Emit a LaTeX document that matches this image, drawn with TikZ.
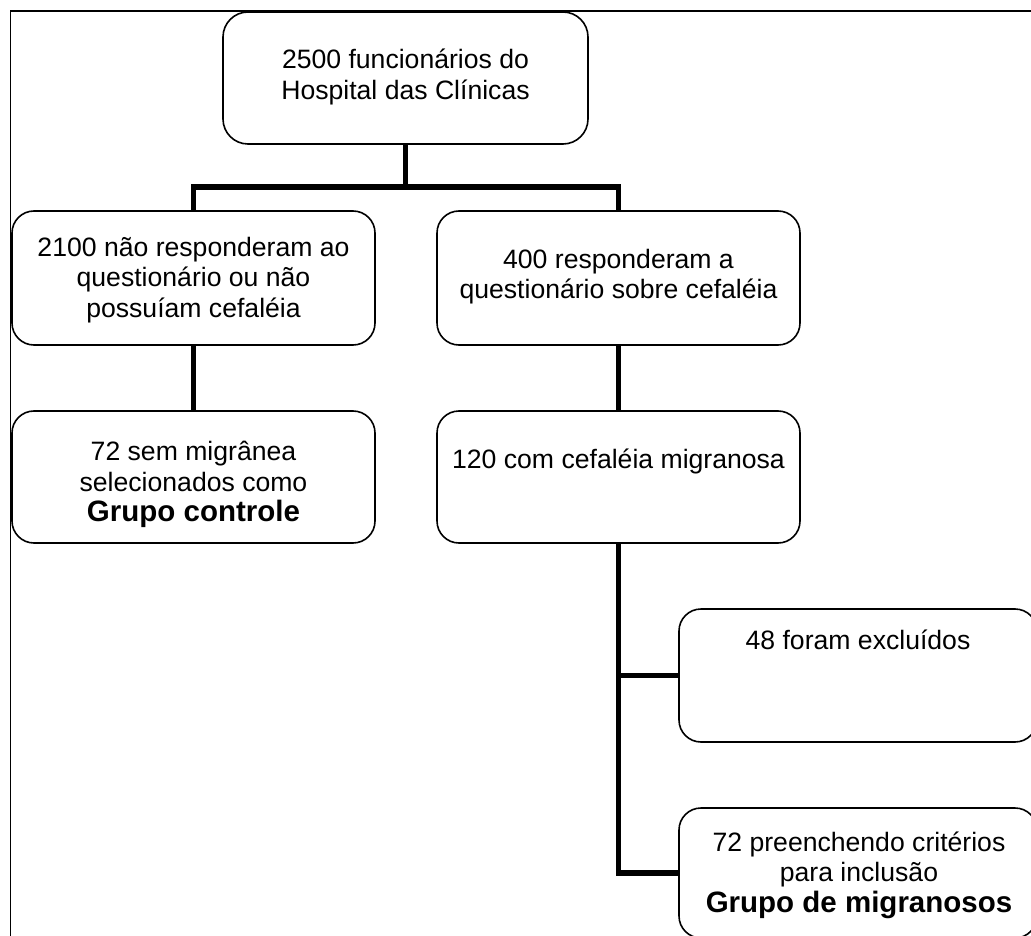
\documentclass[tikz,border=0pt]{standalone}
\usepackage{fontspec}
\setmainfont{Liberation Sans}
\newcommand{\bigbold}[1]{{\fontsize{29.5pt}{30.5pt}\selectfont\bfseries #1}}
\begin{document}
\begin{tikzpicture}[x=1pt,y=-1pt,
  box/.style={draw, line width=1.6pt, rounded corners=22pt, inner sep=0pt},
  txt/.style={inner sep=0pt, anchor=base, align=center, font=\fontsize{26.6pt}{30.5pt}\selectfont},
  conn/.style={line width=5.5pt, line join=miter},
  frame/.style={line width=1.8pt}]
\useasboundingbox (0,0) rectangle (1031,936);
\clip (0,0) rectangle (1031,936);
% outer frame
\draw[frame] (1045,11) -- (10.5,11) -- (10.5,950);
% boxes
\node[box, rounded corners=25pt, minimum width=365pt, minimum height=132pt] (b1) at (405.5,78) {};
\node[box, minimum width=363pt, minimum height=134pt] (b2L) at (193.5,278) {};
\node[box, minimum width=363pt, minimum height=134pt] (b2R) at (618.5,278) {};
\node[box, minimum width=363pt, minimum height=132pt] (b3L) at (193.5,477) {};
\node[box, minimum width=363pt, minimum height=132pt] (b3R) at (618.5,477) {};
\node[box, minimum width=358pt, minimum height=133pt] (b4) at (858,675.5) {};
\node[box, minimum width=358pt, minimum height=130pt] (b5) at (858,873) {};
% texts (anchor base = baseline of the last line)
\node[txt] (t1) at (405.5,99.5) {2500 funcionários do\\Hospital das Clínicas};
\node[txt] (t2L) at (193.5,317) {2100 não responderam ao\\questionário ou não\\possuíam cefaléia};
\node[txt] (t2R) at (618.5,298.5) {400 responderam a\\questionário sobre cefaléia};
\node[txt] (t3L) at (193.5,521.5) {72 sem migrânea\\selecionados como\\\bigbold{Grupo controle}};
\node[txt] (t3R) at (618.5,468) {120 com cefaléia migranosa};
\node[txt] (t4) at (858,649) {48 foram excluídos};
\node[txt] (t5) at (859,912) {72 preenchendo critérios\\para inclusão\\\bigbold{Grupo de migranosos}};
% connectors
\coordinate (j) at (0,187);
\draw[conn] (b1.south) -- (b1.south |- j);
\draw[conn] (b2L.north) -- (b2L.north |- j) -- (b2R.north |- j) -- (b2R.north);
\draw[conn] (b2L.south) -- (b3L.north);
\draw[conn] (b2R.south) -- (b3R.north);
\draw[conn] (b3R.south) |- (b5.west);
\draw[conn] (b3R.south |- b4.west) -- (b4.west);
\end{tikzpicture}
\end{document}
